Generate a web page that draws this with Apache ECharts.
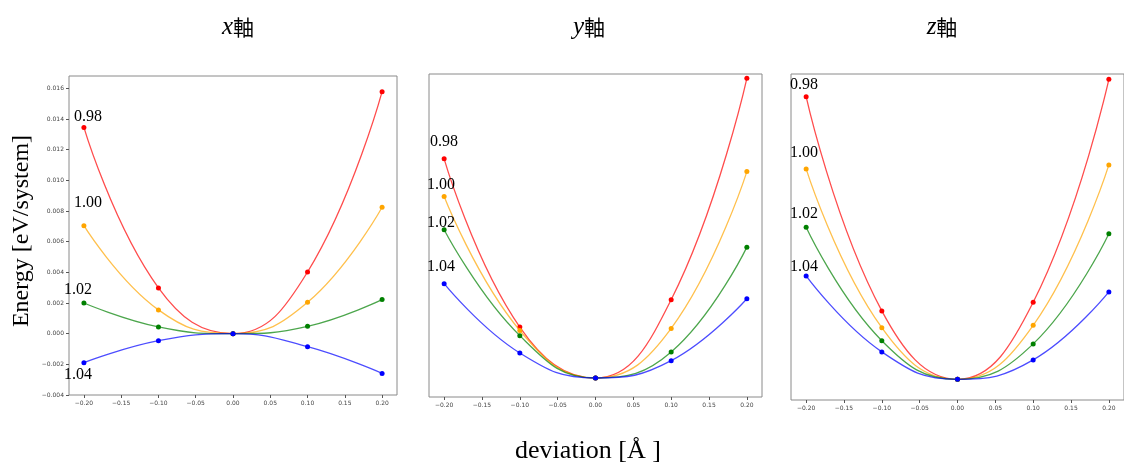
<!DOCTYPE html>
<html>
<head>
<meta charset="utf-8">
<script src="https://cdn.jsdelivr.net/npm/echarts@6/dist/echarts.min.js"></script>
<style>
    html, body { margin: 0; padding: 0; background: #fff; }
    #chart { width: 1124px; height: 466px; }
</style>
</head>
<body>
<div id="chart"></div>
<script>
// 変位 (x座標)
var deviation = [-0.2, -0.1, 0, 0.1, 0.2];
var xTicks = [-0.2, -0.15, -0.1, -0.05, 0, 0.05, 0.1, 0.15, 0.2];
var yTicksX = [-0.004, -0.002, 0, 0.002, 0.004, 0.006, 0.008, 0.010, 0.012, 0.014, 0.016];
var ratioNames = ['0.98', '1.00', '1.02', '1.04'];
var ratioColors = ['#ff0000', '#ffa500', '#008000', '#0000ff'];

// x軸
var xAxis_098 = [0.01345, 0.00298, 0, 0.00402, 0.01578];
var xAxis_100 = [0.00704, 0.00155, 0, 0.00204, 0.00824];
var xAxis_102 = [0.00200, 0.00044, 0, 0.00048, 0.00222];
var xAxis_104 = [-0.00189, -0.00046, 0, -0.00085, -0.00259];

// y軸
var yAxis_098 = [0.01097, 0.00255, 0, 0.00392, 0.01500];
var yAxis_100 = [0.00908, 0.00238, 0, 0.00248, 0.01033];
var yAxis_102 = [0.00742, 0.00212, 0, 0.00130, 0.00655];
var yAxis_104 = [0.00472, 0.00125, 0, 0.00087, 0.00397];

// z軸
var zAxis_098 = [0.01413, 0.00342, 0, 0.00385, 0.01500];
var zAxis_100 = [0.01052, 0.00258, 0, 0.00270, 0.01072];
var zAxis_102 = [0.00760, 0.00193, 0, 0.00177, 0.00728];
var zAxis_104 = [0.00517, 0.00137, 0, 0.00097, 0.00437];

var panels = [
    {title: 'x', data: [xAxis_098, xAxis_100, xAxis_102, xAxis_104], yMin: -0.004, yMax: 0.0168},
    {title: 'y', data: [yAxis_098, yAxis_100, yAxis_102, yAxis_104], yMin: -0.00095, yMax: 0.015215},
    {title: 'z', data: [zAxis_098, zAxis_100, zAxis_102, zAxis_104], yMin: -0.001035, yMax: 0.015265}
];

var grids = [
    {left: 69, top: 76, width: 328, height: 319},
    {left: 429, top: 74, width: 333, height: 323},
    {left: 791, top: 74, width: 333, height: 326}
];
var titleCenters = [233, 584, 937];
// ラベル位置 (0.98, 1.00, 1.02, 1.04)
var labelPos = [
    [[88, 117], [88, 203], [78, 290], [78, 375]],
    [[444, 142], [441, 185], [441, 223], [441, 267]],
    [[804, 85], [804, 153], [804, 214], [804, 267]]
];

function fmtNum(v, d) {
    return v.toFixed(d).replace('-', '\u2212');
}

var tickLabelStyle = {
    fontFamily: 'DejaVu Sans',
    fontSize: 6,
    color: '#444'
};

var option = {
    animation: false,
    backgroundColor: '#fff',
    title: [],
    grid: [],
    xAxis: [],
    yAxis: [],
    series: [],
    graphic: []
};

panels.forEach(function (p, i) {
    option.grid.push({
        left: grids[i].left,
        top: grids[i].top,
        width: grids[i].width,
        height: grids[i].height,
        show: true,
        borderColor: '#8a8a8a',
        borderWidth: 1,
        backgroundColor: '#fff'
    });
    option.title.push({
        text: '{i|' + p.title + '}{k|軸}',
        left: titleCenters[i],
        top: 10,
        textAlign: 'center',
        textStyle: {
            fontWeight: 'normal',
            rich: {
                i: {fontFamily: 'Liberation Serif', fontStyle: 'italic', fontWeight: 'normal', fontSize: 25, color: '#000'},
                k: {fontFamily: 'Noto Sans CJK JP', fontWeight: 'normal', fontSize: 21, color: '#000'}
            }
        }
    });
    option.xAxis.push({
        type: 'value',
        gridIndex: i,
        position: 'bottom',
        min: -0.22,
        max: 0.22,
        splitLine: {show: false},
        axisLine: {show: false, onZero: false},
        axisTick: {show: true, length: 3, customValues: xTicks, lineStyle: {color: '#555'}},
        axisLabel: {
            show: true,
            customValues: xTicks,
            margin: 5,
            formatter: function (v) { return fmtNum(v, 2); },
            fontFamily: tickLabelStyle.fontFamily,
            fontSize: tickLabelStyle.fontSize,
            color: tickLabelStyle.color
        }
    });
    var yAx = {
        type: 'value',
        gridIndex: i,
        position: 'left',
        min: p.yMin,
        max: p.yMax,
        splitLine: {show: false},
        axisLine: {show: false, onZero: false},
        axisTick: {show: false},
        axisLabel: {show: false}
    };
    if (i === 0) {
        yAx.axisTick = {show: true, length: 3, customValues: yTicksX, lineStyle: {color: '#555'}};
        yAx.axisLabel = {
            show: true,
            customValues: yTicksX,
            margin: 5,
            formatter: function (v) { return fmtNum(v, 3); },
            fontFamily: tickLabelStyle.fontFamily,
            fontSize: tickLabelStyle.fontSize,
            color: tickLabelStyle.color
        };
    }
    option.yAxis.push(yAx);

    p.data.forEach(function (vals, k) {
        let pts = [];
        for (let j = 0; j < deviation.length; j++) {
            pts.push([deviation[j], vals[j]]);
        }
        option.series.push({
            name: p.title + '_' + ratioNames[k],
            type: 'line',
            xAxisIndex: i,
            yAxisIndex: i,
            data: pts,
            smooth: 0.45,
            symbol: 'circle',
            symbolSize: 5,
            itemStyle: {color: ratioColors[k]},
            lineStyle: {color: ratioColors[k], width: 1.3, opacity: 0.7},
            z: 3 + k
        });
        option.graphic.push({
            type: 'text',
            x: labelPos[i][k][0],
            y: labelPos[i][k][1],
            style: {
                text: ratioNames[k],
                fontFamily: 'Liberation Serif',
                fontSize: 16,
                fill: '#000',
                align: 'center',
                verticalAlign: 'middle'
            },
            z: 100
        });
    });
});

// 軸ラベル
option.graphic.push({
    type: 'text',
    x: 22,
    y: 231,
    rotation: Math.PI / 2,
    style: {
        text: 'Energy [eV/system]',
        fontFamily: 'Liberation Serif',
        fontSize: 24,
        fill: '#000',
        align: 'center',
        verticalAlign: 'middle'
    }
});
option.graphic.push({
    type: 'text',
    x: 588,
    y: 451,
    style: {
        text: 'deviation [Å ]',
        fontFamily: 'Liberation Serif',
        fontSize: 26,
        fill: '#000',
        align: 'center',
        verticalAlign: 'middle'
    }
});

var chart = echarts.init(document.getElementById('chart'), null, {renderer: 'canvas'});
chart.setOption(option);
</script>
</body>
</html>
